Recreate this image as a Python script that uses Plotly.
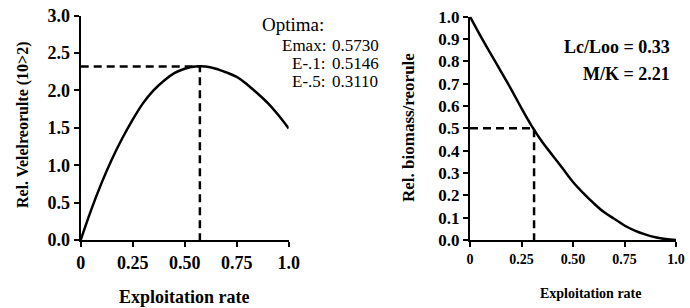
import numpy as np
import plotly.graph_objects as go

# ---- data ----
exploitation = [0.0, 0.05, 0.10, 0.15, 0.20, 0.25, 0.30, 0.35, 0.40, 0.45, 0.50,
                0.55, 0.60, 0.65, 0.70, 0.75, 0.80, 0.85, 0.90, 0.95, 1.0]
rel_yield = [0.0, 0.40, 0.76, 1.08, 1.36, 1.61, 1.83, 2.00, 2.13, 2.23, 2.29,
             2.32, 2.32, 2.29, 2.24, 2.18, 2.08, 1.96, 1.83, 1.67, 1.49]
rel_biomass = [1.0, 0.915, 0.835, 0.755, 0.675, 0.59, 0.51, 0.44, 0.38, 0.32, 0.26,
               0.21, 0.165, 0.125, 0.095, 0.065, 0.042, 0.025, 0.012, 0.004, 0.0]
optima_labels = ["Emax:", "E-.1:", "E-.5:"]
optima_values = [0.5730, 0.5146, 0.3110]
lc_loo = 0.33
m_k = 2.21
x_ticks = [0, 0.25, 0.5, 0.75, 1.0]
x_ticktext = ["0", "0.25", "0.50", "0.75", "1.0"]
y1_ticks = [0, 0.5, 1.0, 1.5, 2.0, 2.5, 3.0]
y2_ticks = [0, 0.1, 0.2, 0.3, 0.4, 0.5, 0.6, 0.7, 0.8, 0.9, 1.0]

W, H = 690, 308
FONT = "Liberation Serif"

def px_x(p):
    return p / W

def px_y(p):
    return 1 - p / H

fig = go.Figure()

# left panel curve
fig.add_trace(go.Scatter(x=exploitation, y=rel_yield, mode="lines", line=dict(color="black", width=2.5, shape="spline"),
                         xaxis="x", yaxis="y", showlegend=False, hoverinfo="skip"))
emax = optima_values[0]
peak = float(np.interp(emax, exploitation, rel_yield))
fig.add_trace(go.Scatter(x=[0, emax, emax], y=[peak, peak, 0], mode="lines",
                         line=dict(color="black", width=2.5, dash="8px,5px"),
                         xaxis="x", yaxis="y", showlegend=False, hoverinfo="skip"))

# right panel curve
fig.add_trace(go.Scatter(x=exploitation, y=rel_biomass, mode="lines", line=dict(color="black", width=2.5, shape="spline"),
                         xaxis="x2", yaxis="y2", showlegend=False, hoverinfo="skip"))
e5 = optima_values[2]
fig.add_trace(go.Scatter(x=[0, e5, e5], y=[0.5, 0.5, 0], mode="lines",
                         line=dict(color="black", width=2.5, dash="8px,5px"),
                         xaxis="x2", yaxis="y2", showlegend=False, hoverinfo="skip"))

axis_common = dict(showline=True, linecolor="black", linewidth=2, ticks="outside", ticklen=5,
                   tickwidth=2, tickcolor="black", showgrid=False, zeroline=False, fixedrange=True,
                   automargin=False, ticklabeloverflow="allow")

def bold(vals):
    return [f"<b>{v}</b>" for v in vals]

fig.update_layout(
    template="none",
    width=W, height=H, margin=dict(l=0, r=0, t=0, b=0, pad=0),
    paper_bgcolor="white", plot_bgcolor="white",
    font=dict(family=FONT, color="black"),
    xaxis=dict(domain=[px_x(80.7), px_x(288.7)], range=[0, 1], tickvals=x_ticks, ticktext=bold(x_ticktext),
               anchor="y", tickfont=dict(size=18, family=FONT), **axis_common),
    yaxis=dict(domain=[px_y(240), px_y(15.6)], range=[0, 3], tickvals=y1_ticks,
               ticktext=bold([f"{v:.1f}" for v in y1_ticks]), anchor="x",
               tickfont=dict(size=18, family=FONT), **axis_common),
    xaxis2=dict(domain=[px_x(470), px_x(676)], range=[0, 1], tickvals=x_ticks, ticktext=bold(x_ticktext),
                anchor="y2", tickfont=dict(size=14, family=FONT), **axis_common),
    yaxis2=dict(domain=[px_y(240), px_y(16.7)], range=[0, 1], tickvals=y2_ticks,
                ticktext=bold([f"{v:.1f}" for v in y2_ticks]), anchor="x2",
                tickfont=dict(size=17, family=FONT), **axis_common),
)

def note(text, x, y, size, xanchor="center", angle=0):
    return dict(text=text, x=px_x(x), y=px_y(y), xref="paper", yref="paper", xanchor=xanchor,
                yanchor="middle", showarrow=False, textangle=angle, font=dict(size=size, family=FONT))

ann = []
# axis titles
ann.append(note("<b>Exploitation rate</b>", 184.7, 297, 18))
ann.append(note("<b>Exploitation rate</b>", 591, 293, 14))
ann.append(note("<b>Rel. Velelreorulte (10>2)</b>", 23, 125, 16, angle=-90))
ann.append(note("<b>Rel. biomass/reorule</b>", 408, 128, 17, angle=-90))
# optima block
ann.append(note("Optima:", 260, 24, 19, xanchor="left"))
rows_y = [45.5, 63.5, 81]
for lab, val, yy in zip(optima_labels, optima_values, rows_y):
    ann.append(note(lab, 328, yy, 17, xanchor="right"))
    ann.append(note(f"{val:.4f}", 330, yy, 17, xanchor="left"))
# right parameters
ann.append(note(f"<b>Lc/Loo = {lc_loo:.2f}</b>", 672, 46.7, 18, xanchor="right"))
ann.append(note(f"<b>M/K = {m_k:.2f}</b>", 672, 74, 18, xanchor="right"))
fig.update_layout(annotations=ann)

fig.write_html("out.html", config={"displayModeBar": False, "staticPlot": True},
               post_script="document.body.style.margin='0px';")
